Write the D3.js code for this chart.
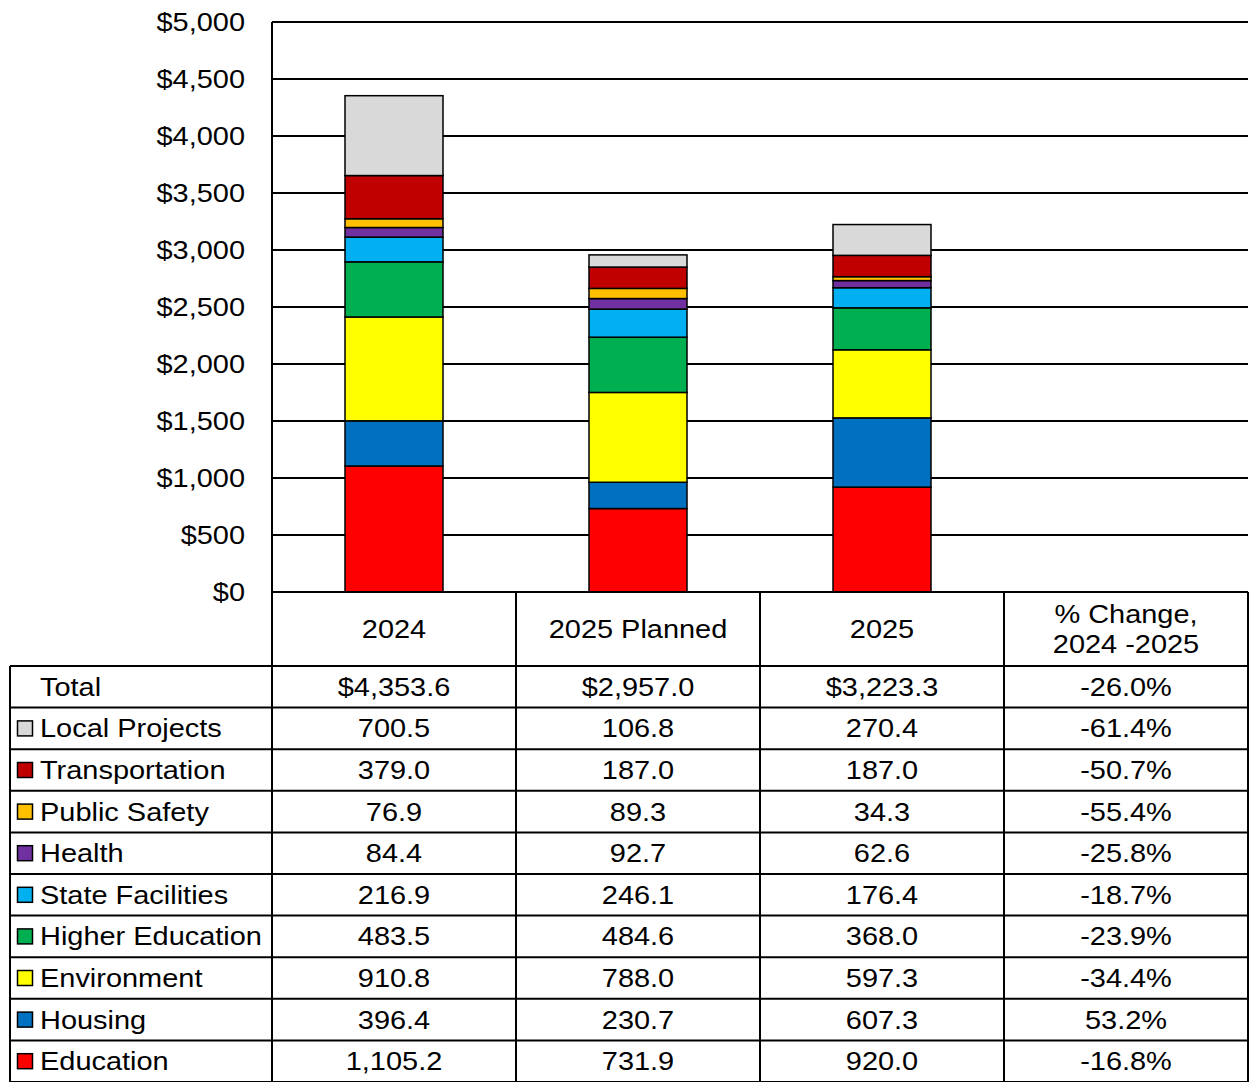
<!DOCTYPE html>
<html><head><meta charset="utf-8">
<script src="https://cdn.jsdelivr.net/npm/d3@7"></script>
<style>html,body{margin:0;padding:0;background:#fff;}svg{display:block;}text{font-family:"Liberation Sans",Arial,sans-serif;fill:#000;}</style>
</head><body>
<script>
const years = ["2024", "2025 Planned", "2025"];
const headers = ["2024", "2025 Planned", "2025", "% Change,|2024 -2025"];
const categories = ["Local Projects","Transportation","Public Safety","Health","State Facilities","Higher Education","Environment","Housing","Education"];
const colors = ["#d9d9d9","#c00000","#ffc000","#7030a0","#00b0f0","#00b050","#ffff00","#0070c0","#ff0000"];
const values2024 = [700.5,379.0,76.9,84.4,216.9,483.5,910.8,396.4,1105.2];
const values2025P = [106.8,187.0,89.3,92.7,246.1,484.6,788.0,230.7,731.9];
const values2025 = [270.4,187.0,34.3,62.6,176.4,368.0,597.3,607.3,920.0];
const totals = ["$4,353.6","$2,957.0","$3,223.3"];
const pctChange = ["-26.0%","-61.4%","-50.7%","-55.4%","-25.8%","-18.7%","-23.9%","-34.4%","53.2%","-16.8%"];
const yTicks = [0,500,1000,1500,2000,2500,3000,3500,4000,4500,5000];

(function(){
const W=1249,H=1082;
const svg=d3.select("body").append("svg").attr("width",W).attr("height",H);
const pL=272,pR=1248,pT=22,pB=592;
const colEdges=[272,516,760,1004,1248];
const y=d3.scaleLinear().domain([0,5000]).range([pB,pT]);
const x=d3.scaleBand().domain(years.concat(["pct"])).range([pL,pR]).paddingInner(0).paddingOuter(0);
const FS=25.5, SX=1.135;
const txt=(tx,ty,s,anchor)=>svg.append("text")
  .attr("transform",`translate(${tx},${ty}) scale(${SX},1)`)
  .attr("dy","0.35em").attr("text-anchor",anchor||"start").attr("font-size",FS).text(s);

// gridlines
svg.append("g").selectAll("line").data(yTicks).join("line")
 .attr("x1",pL).attr("x2",pR).attr("y1",d=>y(d)).attr("y2",d=>y(d))
 .attr("stroke","#000").attr("stroke-width",2);
svg.append("line").attr("x1",pL).attr("x2",pL).attr("y1",pT).attr("y2",pB).attr("stroke","#000").attr("stroke-width",2);
// y labels
yTicks.forEach(d=>txt(245,y(d),"$"+d3.format(",")(d),"end"));

// stacked bars: bottom-up order = reversed categories
const series=[values2024,values2025P,values2025];
const order=categories.map((c,i)=>i).reverse();
const barW=98;
years.forEach((yr,j)=>{
  let acc=0;
  const cx=x(yr)+x.bandwidth()/2;
  order.forEach(i=>{
    const v=series[j][i];
    svg.append("rect").attr("x",cx-barW/2).attr("width",barW)
      .attr("y",y(acc+v)).attr("height",y(acc)-y(acc+v))
      .attr("fill",colors[i]).attr("stroke","#000").attr("stroke-width",1.5);
    acc+=v;
  });
});

// table
const rowTop=666, rowH=41.6;
const tl=svg.append("g");
const ln=(x1,y1,x2,y2)=>tl.append("line").attr("x1",x1).attr("y1",y1).attr("x2",x2).attr("y2",y2).attr("stroke","#000").attr("stroke-width",2);
ln(pL,pB,pR,pB);
colEdges.forEach(cx=>ln(cx,pB,cx,H));
ln(10,rowTop,10,H);
for(let r=0;r<=10;r++){ln(10,rowTop+r*rowH,pR,rowTop+r*rowH);}
headers.forEach((h,j)=>{
  const cx=(colEdges[j]+colEdges[j+1])/2;
  const parts=h.split("|");
  const my=(pB+rowTop)/2;
  if(parts.length===1) txt(cx,my,h,"middle");
  else parts.forEach((p,k)=>txt(cx,my+(k-0.5)*30,p,"middle"));
});
const rowLabels=["Total"].concat(categories);
rowLabels.forEach((lab,r)=>{
  const cy=rowTop+r*rowH+rowH/2;
  if(r>0){
    svg.append("rect").attr("x",17.5).attr("y",cy-7.5).attr("width",15).attr("height",15)
     .attr("fill",colors[r-1]).attr("stroke","#000").attr("stroke-width",1.5);
  }
  txt(40,cy,lab,"start");
  const vals=r===0?totals:series.map(s=>d3.format(",.1f")(s[r-1]));
  vals.forEach((v,j)=>txt((colEdges[j]+colEdges[j+1])/2,cy,v,"middle"));
  txt((colEdges[3]+colEdges[4])/2,cy,pctChange[r],"middle");
});
})();
</script>
</body></html>
